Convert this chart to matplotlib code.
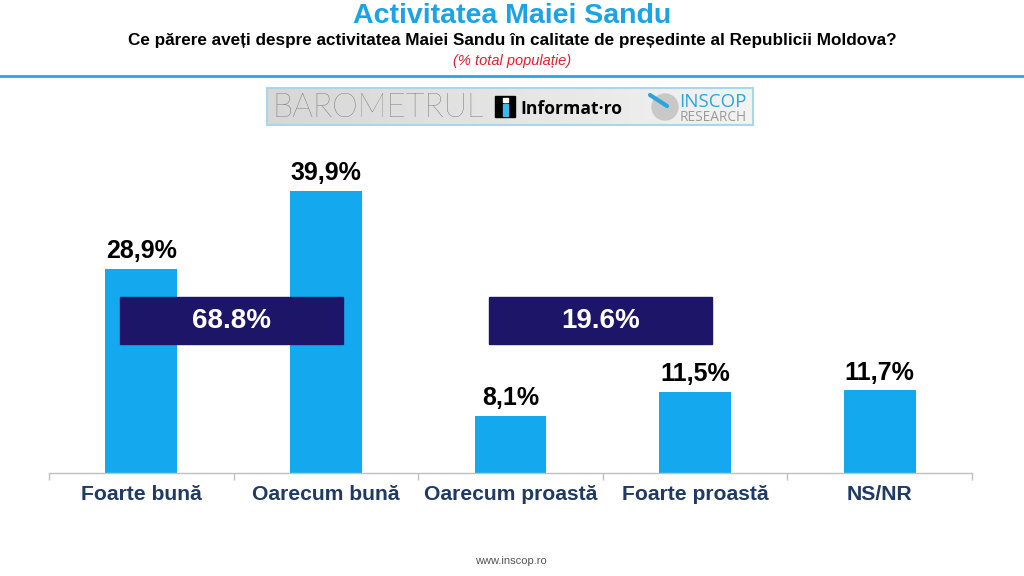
import numpy as np
import matplotlib.pyplot as plt
from matplotlib.patches import Rectangle, Circle

# data
categories = ['Foarte bună', 'Oarecum bună', 'Oarecum proastă', 'Foarte proastă', 'NS/NR']
values = [28.9, 39.9, 8.1, 11.5, 11.7]
value_labels = ['28,9%', '39,9%', '8,1%', '11,5%', '11,7%']
group_members = [[0, 1], [2, 3]]
group_labels = ['68.8%', '19.6%']

bar_color = '#14a9ef'
box_color = '#1c1568'
label_color = '#1f3a64'

plt.rcParams['font.family'] = ['Liberation Sans', 'DejaVu Sans']

fig = plt.figure(figsize=(10.24, 5.76), dpi=100)
W, H = 1024, 576

def fx(px):
    return px / W

def fy(py):
    return 1 - py / H

# header
fig.text(0.5, fy(16), 'Activitatea Maiei Sandu', ha='center', va='center',
         fontsize=20.5, fontweight='bold', color='#1ba3e8')
fig.text(0.5, fy(41), 'Ce părere aveți despre activitatea Maiei Sandu în calitate de președinte al Republicii Moldova?',
         ha='center', va='center', fontsize=12.3, fontweight='bold', color='black')
fig.text(0.5, fy(61), '(% total populație)', ha='center', va='center',
         fontsize=10.5, style='italic', color='#e0202a')
fig.add_artist(plt.Line2D([0, 1], [fy(76), fy(76)], color='#2ba4e0', lw=2))

# logo strip
lg = fig.add_axes([fx(267), fy(125), fx(486), 37 / H])
grad = np.linspace(0.84, 0.95, 256).reshape(1, -1)
lg.imshow(grad, cmap='gray', vmin=0, vmax=1, aspect='auto', extent=[0, 486, 0, 37])
lg.set_xlim(0, 486)
lg.set_ylim(0, 37)
lg.set_xticks([])
lg.set_yticks([])
for s in lg.spines.values():
    s.set_color('#a9d6e8')
    s.set_linewidth(1.5)
lg.text(5, 17, 'BAROMETRUL', ha='left', va='center', fontsize=23.5,
        family='Lato', fontweight='light', color='#555555')
lg.add_patch(Rectangle((228, 8), 20, 21, color='black'))
lg.add_patch(Rectangle((235.5, 9), 5, 12, color='#3fb6e8'))
lg.add_patch(Rectangle((235.5, 23), 5, 4, color='white'))
lg.text(253, 16, 'Informat·ro', ha='left', va='center', fontsize=12.6,
        family='Open Sans', fontweight='bold', color='black')
lg.add_patch(Circle((398, 18), 13, color='#c8c8c8'))
lg.plot([383, 400], [30, 19], color='#2ba4e0', lw=3, solid_capstyle='round')
lg.text(412, 18, 'INSCOP', ha='left', va='baseline', fontsize=13.5,
        family='Open Sans', color='#2ba4e0')
lg.text(413, 4, 'RESEARCH', ha='left', va='baseline', fontsize=9.8,
        family='Open Sans', color='#9a9a9a')

# main bars
ax = fig.add_axes([fx(49), fy(473), fx(923), (473 - 150) / H])
x = np.arange(len(categories))
ax.bar(x, values, width=0.39, color=bar_color, zorder=2)
for xi, v, lab in zip(x, values, value_labels):
    ax.text(xi, v + 0.8, lab, ha='center', va='bottom', fontsize=18,
            fontweight='bold', color='black')

for members, lab in zip(group_members, group_labels):
    x0 = members[0] - 0.115
    x1 = members[-1] + 0.09
    ax.add_patch(Rectangle((x0, 18.2), x1 - x0, 6.7, color=box_color, zorder=3))
    ax.text((x0 + x1) / 2, 21.55, lab, ha='center', va='center', fontsize=20,
            fontweight='bold', color='white', zorder=4)

ax.set_xlim(-0.5, len(categories) - 0.5)
ax.set_ylim(0, 45.7)
ax.set_yticks([])
ax.set_xticks(x)
ax.set_xticklabels(categories, fontsize=15.2, fontweight='bold', color=label_color)
ax.tick_params(axis='x', which='major', length=0, pad=9)
ax.set_xticks(np.arange(-0.5, len(categories)), minor=True)
ax.tick_params(axis='x', which='minor', length=5, color='#c0c0c0', width=1)
for side in ['top', 'right', 'left']:
    ax.spines[side].set_visible(False)
ax.spines['bottom'].set_color('#c0c0c0')
ax.spines['bottom'].set_linewidth(1)

fig.text(fx(511), fy(561), 'www.inscop.ro', ha='center', va='center',
         fontsize=8, color='#555555')

fig.savefig('out.png', dpi=100)
